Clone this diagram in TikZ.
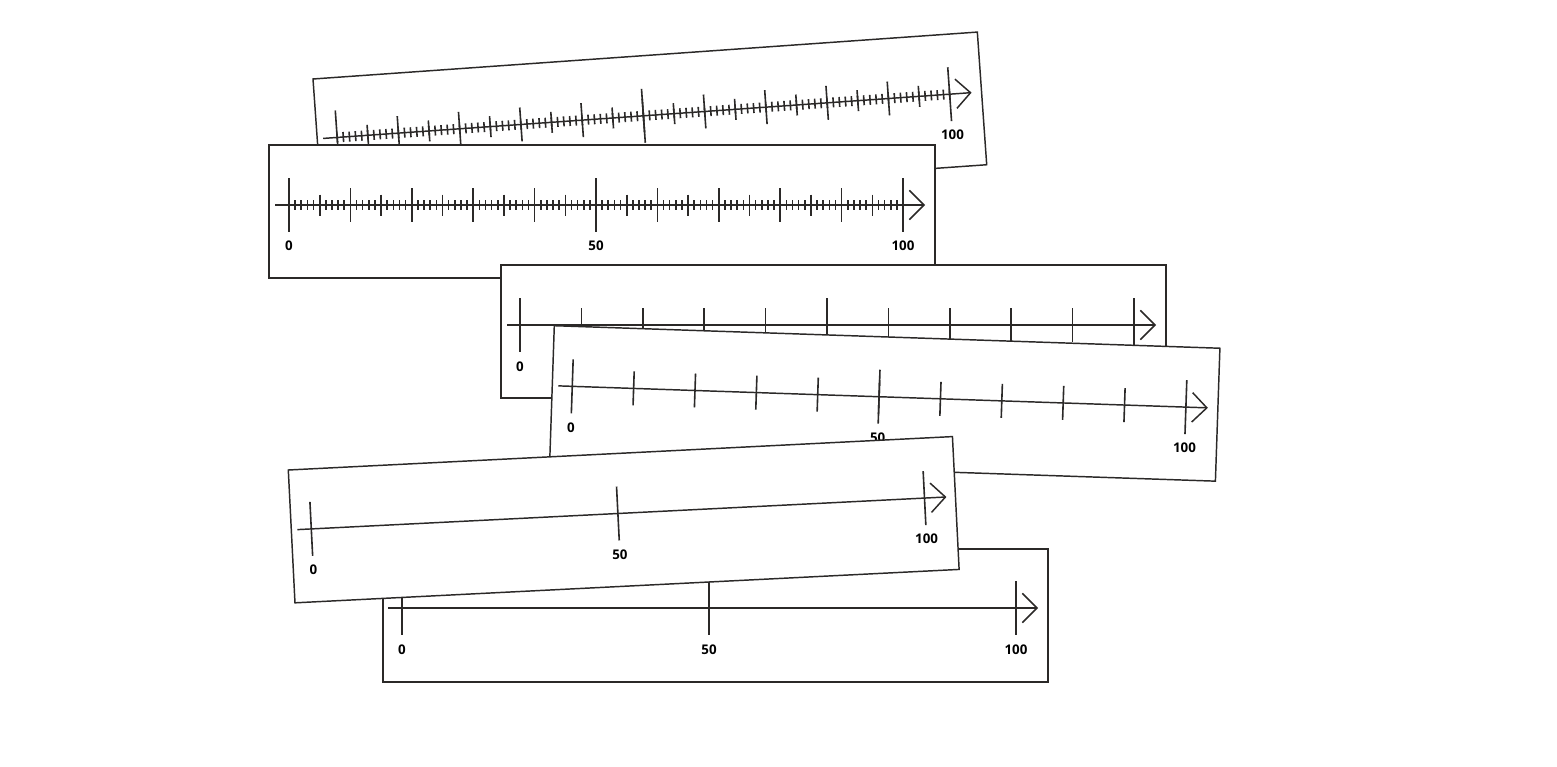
\documentclass[tikz,border=0pt]{standalone}
\usepackage{fontspec}
\setmainfont{Open Sans}
\usetikzlibrary{arrows.meta}

\definecolor{ink}{HTML}{2B2928}

\tikzset{
    card/.style={draw=ink, line width=1.1pt, fill=white},
    numline/.style={draw=ink, line width=1.1pt,
        -{Straight Barb[length=11pt, width=22pt, line width=1.1pt]}},
    tick/.style={draw=ink, line width=1.2pt},
    lbl/.style={font=\fontsize{10}{12}\selectfont\bfseries, inner sep=0pt}
}

\begin{document}
\begin{tikzpicture}[x=0.75pt, y=-0.75pt]
    \useasboundingbox (0,0) rectangle (1557,767);

    % ruler 1, tilted up, units
    \begin{scope}[shift={(313,79)}, rotate=4.04]
        \draw[card] (0,0) rectangle (666,133);
        \draw[numline] (6,60) -- (656,60);
        \foreach \i in {0,...,100}
            \draw[tick] ({20+6.14*\i},55) -- ({20+6.14*\i},65);
        \foreach \i in {5,15,...,95}
            \draw[tick] ({20+6.14*\i},49.5) -- ({20+6.14*\i},70.5);
        \foreach \i in {10,20,...,90}
            \draw[tick] ({20+6.14*\i},43) -- ({20+6.14*\i},77);
        \foreach \i in {0,50,100}
            \draw[tick] ({20+6.14*\i},33) -- ({20+6.14*\i},87);
        \node[lbl] (ra0) at (20,101) {0};
        \node[lbl] (ra50) at (327,101) {50};
        \node[lbl] (ra100) at (634,101) {100};
    \end{scope}

    % ruler 2, straight, units
    \begin{scope}[shift={(269,145)}]
        \draw[card] (0,0) rectangle (666,133);
        \draw[numline] (6,60) -- (656,60);
        \foreach \i in {0,...,100}
            \draw[tick] ({20+6.14*\i},55) -- ({20+6.14*\i},65);
        \foreach \i in {5,15,...,95}
            \draw[tick] ({20+6.14*\i},49.5) -- ({20+6.14*\i},70.5);
        \foreach \i in {10,20,...,90}
            \draw[tick] ({20+6.14*\i},43) -- ({20+6.14*\i},77);
        \foreach \i in {0,50,100}
            \draw[tick] ({20+6.14*\i},33) -- ({20+6.14*\i},87);
        \node[lbl] (rb0) at (20,101) {0};
        \node[lbl] (rb50) at (327,101) {50};
        \node[lbl] (rb100) at (634,101) {100};
    \end{scope}

    % ruler 3, straight, tens
    \begin{scope}[shift={(501,265)}]
        \draw[card] (0,0) rectangle (665,133);
        \draw[numline] (6,60) -- (655,60);
        \foreach \i in {10,20,...,90}
            \draw[tick] ({19+6.14*\i},43) -- ({19+6.14*\i},77);
        \foreach \i in {0,50,100}
            \draw[tick] ({19+6.14*\i},33) -- ({19+6.14*\i},87);
        \node[lbl] (rc0) at (19,102) {0};
        \node[lbl] (rc50) at (326,102) {50};
        \node[lbl] (rc100) at (633,102) {100};
    \end{scope}

    % ruler 4, tilted down, tens
    \begin{scope}[shift={(554.3,325.7)}, rotate=-1.94]
        \draw[card] (0,0) rectangle (666,133);
        \draw[numline] (6,60) -- (656,60);
        \foreach \i in {10,20,...,90}
            \draw[tick] ({20+6.14*\i},43) -- ({20+6.14*\i},77);
        \foreach \i in {0,50,100}
            \draw[tick] ({20+6.14*\i},33) -- ({20+6.14*\i},87);
        \node[lbl] (rd0) at (20,101) {0};
        \node[lbl] (rd50) at (327,101) {50};
        \node[lbl] (rd100) at (634,101) {100};
    \end{scope}

    % ruler 6, straight, halves
    \begin{scope}[shift={(383,549)}]
        \draw[card] (0,0) rectangle (665,133);
        \draw[numline] (5,59) -- (655,59);
        \foreach \i in {0,50,100}
            \draw[tick] ({19+6.14*\i},32) -- ({19+6.14*\i},86);
        \node[lbl] (rf0) at (19,101) {0};
        \node[lbl] (rf50) at (326,101) {50};
        \node[lbl] (rf100) at (633,101) {100};
    \end{scope}

    % ruler 5, tilted up, halves
    \begin{scope}[shift={(288.3,470)}, rotate=2.88]
        \draw[card] (0,0) rectangle (665,133);
        \draw[numline] (6,60) -- (656,60);
        \foreach \i in {0,50,100}
            \draw[tick] ({20+6.14*\i},33) -- ({20+6.14*\i},87);
        \node[lbl] (re0) at (20,101) {0};
        \node[lbl] (re50) at (327,101) {50};
        \node[lbl] (re100) at (634,101) {100};
    \end{scope}
\end{tikzpicture}
\end{document}
